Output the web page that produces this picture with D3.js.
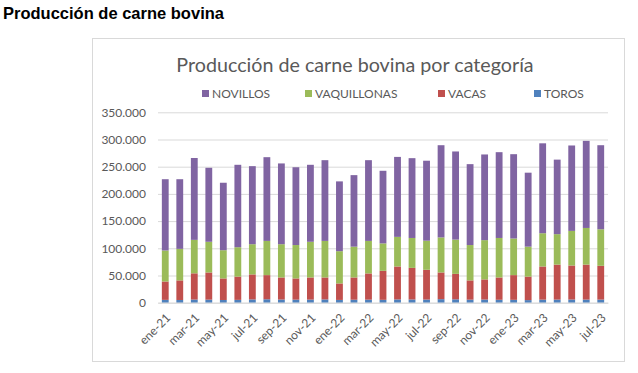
<!DOCTYPE html>
<html>
<head>
<meta charset="utf-8">
<script src="https://cdn.jsdelivr.net/npm/d3@7.9.0/dist/d3.min.js"></script>
<style>
  body { margin: 0; background: #fff; }
  svg { display: block; }
</style>
</head>
<body>
<svg id="chart" width="638" height="373"></svg>
<script>
// meses (eje x)
const months = [
  'ene-21','feb-21','mar-21','abr-21','may-21','jun-21','jul-21','ago-21','sep-21','oct-21','nov-21','dic-21',
  'ene-22','feb-22','mar-22','abr-22','may-22','jun-22','jul-22','ago-22','sep-22','oct-22','nov-22','dic-22',
  'ene-23','feb-23','mar-23','abr-23','may-23','jun-23','jul-23'
];

// toneladas por categoría
const toros = [5200,5000,5800,5600,5000,5200,6000,6300,5800,5600,5700,6000,5100,5500,5600,5300,6000,5900,5800,6500,6200,5600,5800,5400,5300,4800,5600,5700,5800,5700,5700];
const vacas = [33800,36000,48200,50000,39600,42800,46000,44400,40600,39000,40700,40400,30300,40900,48200,53300,60600,58100,54700,49100,46800,35400,37000,41000,45400,43200,61000,64300,62600,64300,62100];
const vaquillonas = [57000,58000,61500,56400,51900,54000,55500,62900,61100,61400,65600,67200,59300,56600,59800,50400,54400,55000,53500,64400,63000,65000,72200,72600,67300,55000,61100,56000,63600,67400,67200];
const novillos = [131000,128000,150500,136000,124000,151500,143500,153900,148500,143000,141500,148400,128300,131500,148400,133500,147000,146700,147000,169500,162000,148700,157500,157700,155000,136000,165300,137000,157000,160100,154500];

const seriesNames = ['TOROS','VACAS','VAQUILLONAS','NOVILLOS'];
const legendOrder = ['NOVILLOS','VAQUILLONAS','VACAS','TOROS'];
const yTicks = [0,50000,100000,150000,200000,250000,300000,350000];

const colors = {NOVILLOS:'#8064A2', VAQUILLONAS:'#9BBB59', VACAS:'#C0504D', TOROS:'#4F81BD'};

const rows = months.map((m, i) => ({
  mes: m,
  TOROS: toros[i],
  VACAS: vacas[i],
  VAQUILLONAS: vaquillonas[i],
  NOVILLOS: novillos[i]
}));

const svg = d3.select('#chart');
const fmt = d3.formatLocale({decimal:',', thousands:'.', grouping:[3], currency:['$','']}).format(',');

// fondo y recuadro
svg.append('rect').attr('width',638).attr('height',373).attr('fill','#fff');
svg.append('rect').attr('x',92.5).attr('y',38.5).attr('width',532).attr('height',323)
  .attr('fill','#fff').attr('stroke','#d9d9d9');

svg.append('text').attr('x',3).attr('y',18.5)
  .attr('font-family','"Liberation Sans", Arial, sans-serif').attr('font-weight','bold')
  .attr('font-size',16.5).attr('fill','#000')
  .text('Producción de carne bovina');

const x = d3.scaleBand().domain(months).range([158,608]).paddingInner(0.53).paddingOuter(0.265);
const y = d3.scaleLinear().domain([0,350000]).range([302.7,112.3]);

// grilla + eje y
const gy = svg.append('g').attr('transform','translate(158,0)')
  .call(d3.axisLeft(y).tickValues(yTicks).tickFormat(fmt).tickSize(-450).tickPadding(12));
gy.select('.domain').remove();
gy.selectAll('line').attr('stroke','#d9d9d9');
gy.selectAll('text').attr('font-family','Lato, sans-serif').attr('font-size',12).attr('fill','#595959');

// barras apiladas
const stacked = d3.stack().keys(seriesNames)(rows);
svg.append('g').selectAll('g').data(stacked).join('g')
  .attr('fill', d => colors[d.key])
  .selectAll('rect').data(d => d).join('rect')
  .attr('x', d => x(d.data.mes))
  .attr('width', x.bandwidth())
  .attr('y', d => y(d[1]))
  .attr('height', d => y(d[0]) - y(d[1]));

// eje x
const gx = svg.append('g').attr('transform','translate(0,302.7)')
  .call(d3.axisBottom(x).tickValues(months.filter((m,i) => i % 2 === 0)).tickSize(0));
gx.select('.domain').attr('stroke','#d9d9d9');
gx.selectAll('text')
  .attr('font-family','Lato, sans-serif').attr('font-size',12).attr('fill','#595959')
  .attr('text-anchor','end')
  .attr('y',0).attr('dy','0.35em')
  .attr('transform','translate(3,13) rotate(-45)');

// título
svg.append('text').attr('x',355).attr('y',72).attr('text-anchor','middle')
  .attr('font-family','Lato, sans-serif').attr('font-size',19.7).attr('fill','#595959')
  .text('Producción de carne bovina por categoría');

// leyenda
const legendX = [202, 305, 438, 534];
const lg = svg.append('g').selectAll('g').data(legendOrder).join('g')
  .attr('transform', (d,i) => `translate(${legendX[i]},93.5)`);
lg.append('rect').attr('x',0).attr('y',-3.5).attr('width',7).attr('height',7).attr('fill', d => colors[d]);
lg.append('text').attr('x',10).attr('y',4.3)
  .attr('font-family','Lato, sans-serif').attr('font-size',12).attr('fill','#595959')
  .text(d => d);
</script>
</body>
</html>
